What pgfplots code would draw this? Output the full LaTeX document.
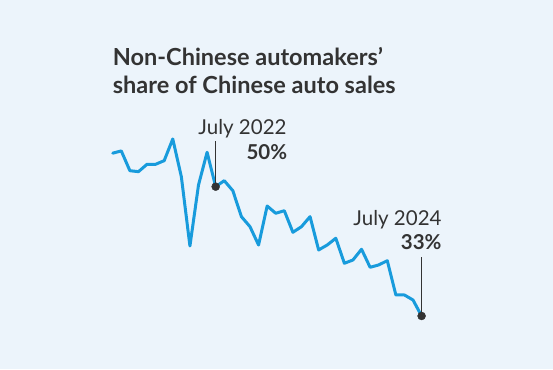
\documentclass[border=0pt]{standalone}
\usepackage{pgfplots}
\pgfplotsset{compat=1.18}
\usepackage{fontspec}
\setmainfont{Lato}
\definecolor{bg}{RGB}{236,244,251}
\definecolor{ln}{RGB}{24,155,220}
\definecolor{txt}{RGB}{51,51,51}
\begin{document}
\begin{tikzpicture}[x=1pt,y=1pt]
\fill[bg] (0,0) rectangle (553,369);
\useasboundingbox (0,0) rectangle (553,369);
\begin{axis}[
  at={(112.7pt,30.2pt)}, anchor=south west,
  scale only axis, width=308.9pt, height=228.2pt,
  xmin=0, xmax=36, ymin=30, ymax=60,
  hide axis, clip=false]
\addplot[ln, line width=3pt, line join=round, line cap=round] coordinates {
(0,54.4) (1,54.7) (2,52.1) (3,51.97) (4,52.94) (5,52.94) (6,53.42) (7,56.27)
(8,51.31) (9,42.2) (10,50.22) (11,54.52) (12,50.0) (13,50.79) (14,49.47)
(15,46.06) (16,44.74) (17,42.33) (18,47.46) (19,46.5) (20,46.84) (21,44.0)
(22,44.74) (23,46.06) (24,41.68) (25,42.33) (26,43.22) (27,39.93) (28,40.36)
(29,41.77) (30,39.4) (31,39.71) (32,40.27) (33,35.76) (34,35.76) (35,35.1)
(36,33.0)};
\addplot[txt, line width=1.3pt] coordinates {(12,50) (12,56.05)};
\addplot[txt, line width=1.3pt] coordinates {(36,33) (36,40.8)};
\addplot[only marks, mark=*, mark size=4pt, txt] coordinates {(12,50) (36,33)};
\end{axis}
\color{txt}
\node[anchor=base west, inner sep=0, font=\fontsize{23.5}{27}\selectfont\bfseries] at (112.7,303.3) {Non-Chinese automakers’};
\node[anchor=base west, inner sep=0, font=\fontsize{23.5}{27}\selectfont\bfseries] at (112.7,275.7) {share of Chinese auto sales};
\node[anchor=base east, inner sep=0, font=\fontsize{20.5}{24}\selectfont] at (286.7,234) {July 2022};
\node[anchor=base east, inner sep=0, font=\fontsize{20.5}{24}\selectfont\bfseries] at (287.3,209.7) {50\%};
\node[anchor=base east, inner sep=0, font=\fontsize{20.5}{24}\selectfont] at (441.7,143.3) {July 2024};
\node[anchor=base east, inner sep=0, font=\fontsize{20.5}{24}\selectfont\bfseries] at (441.7,119) {33\%};
\end{tikzpicture}
\end{document}
